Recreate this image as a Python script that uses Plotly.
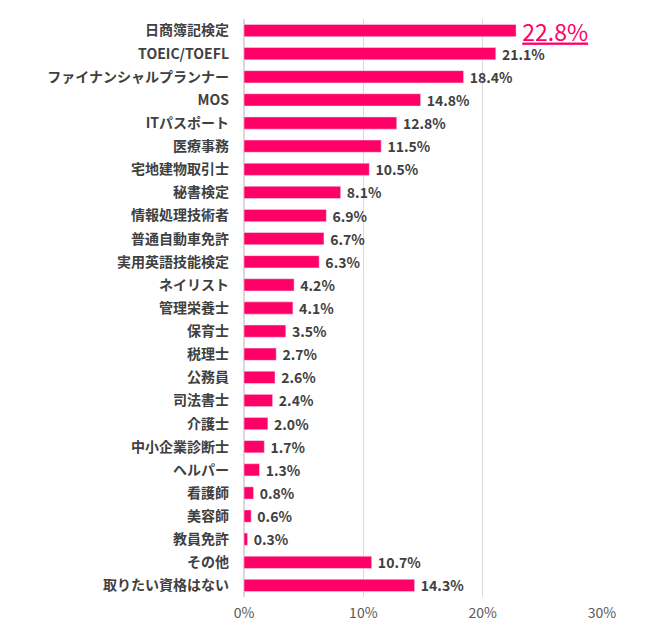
import plotly.graph_objects as go

categories = [
    "日商簿記検定", "TOEIC/TOEFL", "ファイナンシャルプランナー", "MOS", "ITパスポート",
    "医療事務", "宅地建物取引士", "秘書検定", "情報処理技術者", "普通自動車免許",
    "実用英語技能検定", "ネイリスト", "管理栄養士", "保育士", "税理士",
    "公務員", "司法書士", "介護士", "中小企業診断士", "ヘルパー",
    "看護師", "美容師", "教員免許", "その他", "取りたい資格はない",
]
values = [
    22.8, 21.1, 18.4, 14.8, 12.8,
    11.5, 10.5, 8.1, 6.9, 6.7,
    6.3, 4.2, 4.1, 3.5, 2.7,
    2.6, 2.4, 2.0, 1.7, 1.3,
    0.8, 0.6, 0.3, 10.7, 14.3,
]
x_ticks = [0, 10, 20, 30]

pink = "#FF0066"
font_family = "Noto Sans CJK JP"

# first value is highlighted: bigger, pink, underlined
labels = []
for i, v in enumerate(values):
    if i == 0:
        labels.append(f" <span style='font-size:23px;font-weight:normal;color:{pink}'><u>{v:.1f}%</u></span>")
    else:
        labels.append(f" {v:.1f}%")

fig = go.Figure(
    go.Bar(
        x=values,
        y=categories,
        orientation="h",
        marker=dict(color=pink),
        text=labels,
        texttemplate="%{text}",
        textposition="outside",
        constraintext="none",
        textfont=dict(family=font_family, size=14, color="#404040", weight="bold"),
        cliponaxis=False,
        hoverinfo="skip",
    )
)

# the page adds an 8px body margin, so margins are shifted by that
fig.update_layout(
    width=650,
    height=640,
    margin=dict(l=236, r=56, t=11, b=51),
    plot_bgcolor="white",
    paper_bgcolor="white",
    bargap=0.47,
    showlegend=False,
    font=dict(family=font_family, color="#404040"),
)
fig.update_xaxes(
    range=[0, 30],
    tickvals=x_ticks,
    ticktext=[f"{t}%" for t in x_ticks],
    showgrid=True,
    gridcolor="#D9D9D9",
    gridwidth=1,
    zeroline=True,
    zerolinecolor="#D9D9D9",
    tickfont=dict(size=14, color="#595959"),
    ticks="",
    ticklabelstandoff=6,
    showline=False,
)
fig.update_yaxes(
    autorange="reversed",
    tickfont=dict(size=14, color="#404040", weight="bold"),
    ticks="",
    ticklabelstandoff=14,
    showline=False,
)

fig.write_html("out.html")
